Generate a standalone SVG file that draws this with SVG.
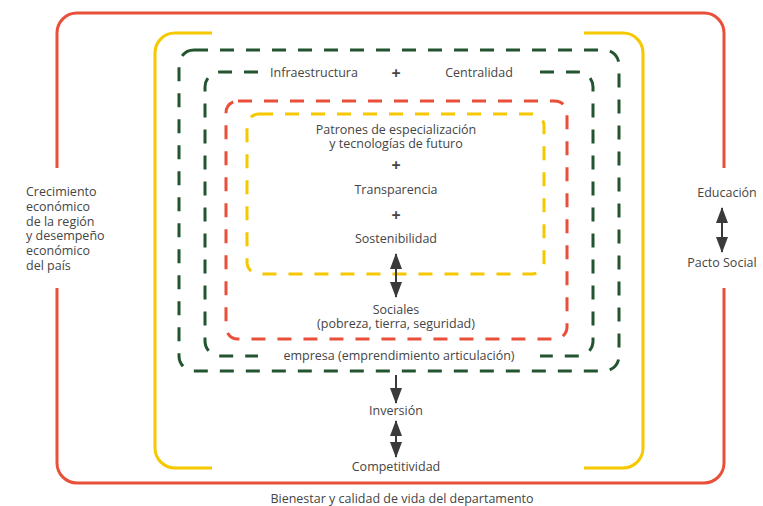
<svg xmlns="http://www.w3.org/2000/svg" width="763" height="506" viewBox="0 0 763 506">
<defs>
<style>
.t{font-family:"Open Sans","Noto Sans","Liberation Sans",sans-serif;font-size:12.5px;fill:#454545}
.c{text-anchor:middle}
.p{font-family:"Open Sans","Noto Sans","Liberation Sans",sans-serif;font-size:16px;font-weight:bold;fill:#454545;text-anchor:middle}
.solid{fill:none;stroke-width:3;stroke-linecap:butt}
.dash{fill:none;stroke-width:3;stroke-dasharray:14 12}
.red{stroke:#E8503A}
.yel{stroke:#F6C800}
.grn{stroke:#22552F}
.arr{stroke:#3A3A3A;stroke-width:2;fill:none}
</style>
<marker id="ah" viewBox="0 0 16 12" refX="15" refY="6" markerWidth="16" markerHeight="12" markerUnits="userSpaceOnUse" orient="auto-start-reverse">
<path d="M0,0 L16,6 L0,12 z" fill="#3A3A3A"/>
</marker>
</defs>
<rect width="763" height="506" fill="#ffffff"/>
<g id="frames">
<path class="solid red" d="M57,168 V33 A20,20 0 0 1 77,13 H704 A20,20 0 0 1 724,33 V168"/>
<path class="solid red" d="M57,288 V463 A20,20 0 0 0 77,483 H704 A20,20 0 0 0 724,463 V288"/>
<path class="solid yel" d="M212,33 H175 A20,20 0 0 0 155,53 V448 A20,20 0 0 0 175,468 H212"/>
<path class="solid yel" d="M584,33 H623 A20,20 0 0 1 643,53 V448 A20,20 0 0 1 623,468 H584"/>
<rect class="dash grn" x="179" y="50" width="440" height="321" rx="15"/>
<path class="dash grn" d="M258,72 H220 A15,15 0 0 0 205,87 V341 A15,15 0 0 0 220,356 H258"/>
<path class="dash grn" d="M540,72 H578 A15,15 0 0 1 593,87 V341 A15,15 0 0 1 578,356 H540"/>
<rect class="dash red" x="226" y="101" width="341" height="238" rx="12"/>
<rect class="dash yel" x="247" y="114" width="297" height="160" rx="12"/>
</g>
<g id="connectors">
<line class="arr" x1="396" y1="254" x2="396" y2="297" marker-start="url(#ah)" marker-end="url(#ah)"/>
<line class="arr" x1="396" y1="375" x2="396" y2="403" marker-end="url(#ah)"/>
<line class="arr" x1="396" y1="421" x2="396" y2="457" marker-start="url(#ah)" marker-end="url(#ah)"/>
<line class="arr" x1="722" y1="208" x2="722" y2="252" marker-start="url(#ah)" marker-end="url(#ah)"/>
</g>
<g id="n-infra"><text class="t c" x="314" y="77">Infraestructura</text></g>
<g id="n-plus1"><text class="p" x="396" y="79">+</text></g>
<g id="n-central"><text class="t c" x="479" y="77">Centralidad</text></g>
<g id="n-patrones"><text class="t c" x="396" y="134">Patrones de especialización</text><text class="t c" x="396" y="148">y tecnologías de futuro</text></g>
<g id="n-plus2"><text class="p" x="396" y="171">+</text></g>
<g id="n-transp"><text class="t c" x="396" y="194">Transparencia</text></g>
<g id="n-plus3"><text class="p" x="396" y="221">+</text></g>
<g id="n-sosten"><text class="t c" x="396" y="243">Sostenibilidad</text></g>
<g id="n-sociales"><text class="t c" x="396" y="314">Sociales</text><text class="t c" x="396" y="328">(pobreza, tierra, seguridad)</text></g>
<g id="n-empresa"><text class="t c" x="399" y="360">empresa (emprendimiento articulación)</text></g>
<g id="n-inversion"><text class="t c" x="396" y="415">Inversión</text></g>
<g id="n-compet"><text class="t c" x="396" y="471">Competitividad</text></g>
<g id="n-bienestar"><text class="t c" x="402" y="503">Bienestar y calidad de vida del departamento</text></g>
<g id="n-crecimiento"><text class="t" x="26" y="196">Crecimiento</text><text class="t" x="26" y="211">económico</text><text class="t" x="26" y="226">de la región</text><text class="t" x="26" y="240">y desempeño</text><text class="t" x="26" y="255">económico</text><text class="t" x="26" y="270">del país</text></g>
<g id="n-educacion"><text class="t c" x="727" y="197">Educación</text></g>
<g id="n-pacto"><text class="t c" x="722" y="267">Pacto Social</text></g>
</svg>
